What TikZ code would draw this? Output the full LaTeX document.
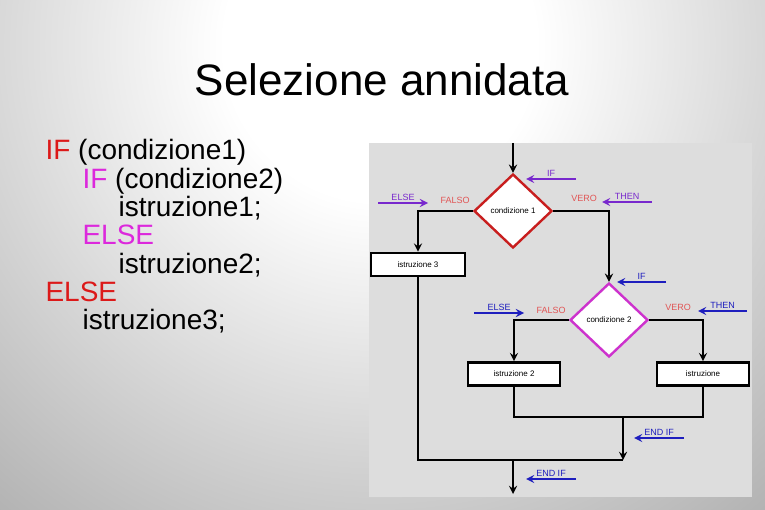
\documentclass[tikz,border=0pt]{standalone}
\usepackage{fontspec}
\setmainfont{Liberation Sans}
\usetikzlibrary{shapes.geometric}

\definecolor{kwred}{RGB}{220,25,25}
\definecolor{kwmag}{RGB}{220,40,220}
\definecolor{lblpurple}{RGB}{120,40,205}
\definecolor{lblblue}{RGB}{30,30,190}
\definecolor{tagred}{RGB}{225,85,85}
\definecolor{cond1col}{RGB}{200,30,30}
\definecolor{cond2col}{RGB}{205,50,205}
\definecolor{panelgray}{RGB}{221,221,221}

\pgfdeclareradialshading{slidebg}{\pgfpoint{0bp}{0bp}}{color(0bp)=(white); color(6bp)=(white); color(25bp)=(black!33); color(40bp)=(black!50); color(50bp)=(black!60)}

\begin{document}
\begin{tikzpicture}[x=1pt, y=-1pt, >=stealth,
  flow/.style={line width=2.6pt},
  cond/.style={diamond, draw=#1, line width=2.4pt, fill=white, minimum width=78pt,
    minimum height=74pt, inner sep=0pt, font=\fontsize{8}{9}\selectfont},
  instr/.style={rectangle, draw, line width=2.6pt, fill=white, minimum width=92pt,
    minimum height=23pt, inner sep=0pt, font=\fontsize{8}{9}\selectfont},
  kw/.style={line width=2.6pt, color=#1, ->, font=\fontsize{9}{10}\selectfont},
  tag/.style={text=tagred, font=\fontsize{9}{10}\selectfont},
  code/.style={anchor=base west, font=\fontsize{28}{30}\selectfont}]
  \useasboundingbox (0,0) rectangle (765,510);
  \begin{scope}
    \clip (0,0) rectangle (765,510);
    \shade[shading=slidebg] (380,45) circle (650pt);
  \end{scope}

  \node[anchor=base, font=\fontsize{44}{48}\selectfont] (title) at (382,96) {Selezione annidata};

  \node[code] (l1) at (42,160) {\textcolor{kwred}{IF} (condizione1)};
  \node[code] (l2) at (79,188.3) {\textcolor{kwmag}{IF} (condizione2)};
  \node[code] (l3) at (115,216.6) {istruzione1;};
  \node[code, text=kwmag] (l4) at (79,244.9) {ELSE};
  \node[code] (l5) at (115,273.2) {istruzione2;};
  \node[code, text=kwred] (l6) at (42,301.5) {ELSE};
  \node[code] (l7) at (79,329.8) {istruzione3;};

  \fill[panelgray] (369,143) rectangle (752,497);

  \node[cond=cond1col] (c1) at (513,211) {condizione 1};
  \node[instr, minimum width=94pt] (i3) at (418,264.5) {istruzione 3};
  \node[cond=cond2col] (c2) at (609,320) {condizione 2};
  \node[instr] (i2) at (514,374) {istruzione 2};
  \node[instr] (i1) at (703,374) {istruzione};

  \coordinate (start) at (513,143);
  \coordinate (j1) at (623,417);
  \coordinate (j2) at (623,460);
  \coordinate (stop) at (513,494);

  \draw[flow,->] (start) -- (c1.north);
  \draw[flow,->] (c1.west) -| (i3.north);
  \draw[flow,->] (c1.east) -| (c2.north);
  \draw[flow,->] (c2.west) -| (i2.north);
  \draw[flow,->] (c2.east) -| (i1.north);
  \draw[flow] (i2.south) |- (j1) -| (i1.south);
  \draw[flow,->] (j1) -- (j2);
  \draw[flow] (i3.south) |- (j2);
  \draw[flow,->] (stop |- j2) -- (stop);

  \node[tag] (f1) at (455,200) {FALSO};
  \node[tag] (v1) at (584,198) {VERO};
  \node[tag] (f2) at (551,310) {FALSO};
  \node[tag] (v2) at (678,307) {VERO};

  \foreach \nm/\xa/\xb/\yy/\col/\txt in {
      kif/576/526/179/lblpurple/IF, kelse/378/428/203/lblpurple/ELSE,
      kthen/652/602/202/lblpurple/THEN, kiftwo/666/617/282/lblblue/IF,
      kelsetwo/474/524/313/lblblue/ELSE, kthentwo/747/698/311/lblblue/THEN,
      kend/684/634/438/lblblue/END IF, kendtwo/576/526/479/lblblue/END IF} {
    \coordinate (\nm a) at (\xa,\yy);
    \coordinate (\nm b) at (\xb,\yy);
    \draw[kw=\col] (\nm a) -- (\nm b) node[midway, above, inner sep=1.5pt] (\nm) {\txt};
  }
\end{tikzpicture}
\end{document}
